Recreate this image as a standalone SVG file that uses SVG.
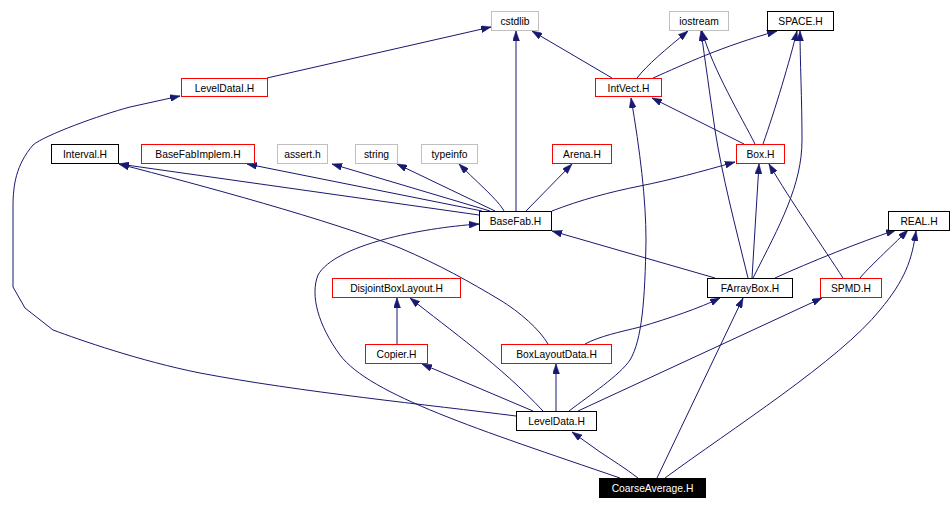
<svg xmlns="http://www.w3.org/2000/svg" width="952" height="509" viewBox="0 0 952 509">
<style>
.n rect{fill:#fff;stroke-width:1}
.blk rect{stroke:#000}
.red rect{stroke:#ff0000}
.gry rect{stroke:#bfbfbf}
.cur rect{fill:#000;stroke:#000}
text{font-family:"Liberation Sans",Arial,sans-serif;font-size:10.3px;text-anchor:middle;fill:#000}
.cur text{fill:#fff}
#edges path{fill:none;stroke:#191970;stroke-width:1;marker-end:url(#ah)}
</style>
<defs>
<marker id="ah" viewBox="0 0 10 7" refX="10" refY="3.5" markerWidth="10" markerHeight="7" markerUnits="userSpaceOnUse" orient="auto">
<path d="M0,0 L10,3.5 L0,7 z" fill="#191970" stroke="#191970" stroke-width="0.5"/>
</marker>
</defs>
<rect width="952" height="509" fill="#fff"/>
<g id="edges">
<path d="M267,78 L491,27"/>
<path d="M516,211 L516,31"/>
<path d="M612,78 L532,31"/>
<path d="M637,78 C647,65 665,50 688,31"/>
<path d="M653,78 C685,64 720,47 777,31"/>
<path d="M744,144 L652,98"/>
<path d="M755,144 C742,118 713,70 702,31"/>
<path d="M763,144 C775,110 790,60 797,31"/>
<path d="M753,278 C780,225 802,185 802,140 C802,100 800,60 800,31"/>
<path d="M748,278 C735,225 722,175 715,130 C710,95 705,60 701,31"/>
<path d="M752,278 L759,164"/>
<path d="M843,278 C825,250 790,200 769,164"/>
<path d="M715,278 L552,231"/>
<path d="M775,278 C810,262 860,242 896,230"/>
<path d="M860,278 C868,268 890,248 908,230"/>
<path d="M665,478 C730,430 840,360 880,310 C905,280 912,260 916,231"/>
<path d="M657,478 L743,298"/>
<path d="M638,478 C625,468 612,460 600,452 L572,432"/>
<path d="M620,478 C480,430 370,395 340,355 C318,325 310,295 318,275 C335,245 420,228 479,224"/>
<path d="M516,416 C430,405 300,392 200,373 C140,361 80,340 53,330 L25,308 L13,287 L13,207 C13,185 16,165 33,145 C45,135 100,115 130,107 L180,96"/>
<path d="M533,411 L422,364"/>
<path d="M556,411 L556,364"/>
<path d="M543,411 C500,365 450,330 410,298"/>
<path d="M569,411 C590,395 620,375 630,360 C642,340 645,300 646,240 C646,200 640,150 631,98"/>
<path d="M578,411 L822,298"/>
<path d="M585,344 C600,336 620,332 640,327 C670,318 700,308 720,298"/>
<path d="M548,344 C540,330 520,312 500,300 C470,282 440,265 400,248 C330,220 200,185 119,164"/>
<path d="M479,215 L119,164"/>
<path d="M482,211 L247,164"/>
<path d="M490,211 L332,164"/>
<path d="M495,211 L397,164"/>
<path d="M504,211 C498,200 480,185 459,164"/>
<path d="M526,211 L572,164"/>
<path d="M552,211 C580,200 610,192 640,186 C670,180 700,172 735,162"/>
<path d="M397,344 L397,298"/>
</g>
<g id="n_cstdlib" class="n gry"><rect x="491.5" y="11.5" width="47" height="19"/><text x="515" y="25">cstdlib</text></g>
<g id="n_iostream" class="n gry"><rect x="669.5" y="11.5" width="59" height="19"/><text x="699" y="25">iostream</text></g>
<g id="n_space" class="n blk"><rect x="767.5" y="11.5" width="66" height="19"/><text x="800.5" y="25">SPACE.H</text></g>
<g id="n_leveldatai" class="n red"><rect x="181.5" y="78.5" width="86" height="18"/><text x="224.5" y="91.5">LevelDataI.H</text></g>
<g id="n_intvect" class="n red"><rect x="595.5" y="78.5" width="66" height="18"/><text x="628.5" y="91.5">IntVect.H</text></g>
<g id="n_interval" class="n blk"><rect x="51.5" y="144.5" width="67" height="19"/><text x="85" y="158">Interval.H</text></g>
<g id="n_basefabimplem" class="n red"><rect x="141.5" y="144.5" width="113" height="19"/><text x="198" y="158">BaseFabImplem.H</text></g>
<g id="n_assert" class="n gry"><rect x="277.5" y="144.5" width="50" height="19"/><text x="302.5" y="158">assert.h</text></g>
<g id="n_string" class="n gry"><rect x="355.5" y="144.5" width="42" height="19"/><text x="376.5" y="158">string</text></g>
<g id="n_typeinfo" class="n gry"><rect x="421.5" y="144.5" width="56" height="19"/><text x="449.5" y="158">typeinfo</text></g>
<g id="n_arena" class="n red"><rect x="552.5" y="144.5" width="59" height="19"/><text x="582" y="158">Arena.H</text></g>
<g id="n_box" class="n red"><rect x="736.5" y="144.5" width="48" height="19"/><text x="760.5" y="158">Box.H</text></g>
<g id="n_basefab" class="n blk"><rect x="479.5" y="211.5" width="72" height="19"/><text x="515.5" y="225">BaseFab.H</text></g>
<g id="n_real" class="n blk"><rect x="888.5" y="211.5" width="61" height="19"/><text x="919" y="225">REAL.H</text></g>
<g id="n_disjoint" class="n red"><rect x="332.5" y="278.5" width="128" height="19"/><text x="396.5" y="292">DisjointBoxLayout.H</text></g>
<g id="n_farraybox" class="n blk"><rect x="707.5" y="278.5" width="85" height="19"/><text x="750" y="292">FArrayBox.H</text></g>
<g id="n_spmd" class="n red"><rect x="820.5" y="278.5" width="61" height="19"/><text x="851" y="292">SPMD.H</text></g>
<g id="n_copier" class="n red"><rect x="365.5" y="344.5" width="62" height="19"/><text x="396.5" y="358">Copier.H</text></g>
<g id="n_boxlayoutdata" class="n red"><rect x="501.5" y="344.5" width="110" height="19"/><text x="556.5" y="358">BoxLayoutData.H</text></g>
<g id="n_leveldata" class="n blk"><rect x="516.5" y="411.5" width="80" height="19"/><text x="556.5" y="425">LevelData.H</text></g>
<g id="n_coarseaverage" class="n cur"><rect x="599.5" y="478.5" width="106" height="19"/><text x="652.5" y="492">CoarseAverage.H</text></g>
</svg>
